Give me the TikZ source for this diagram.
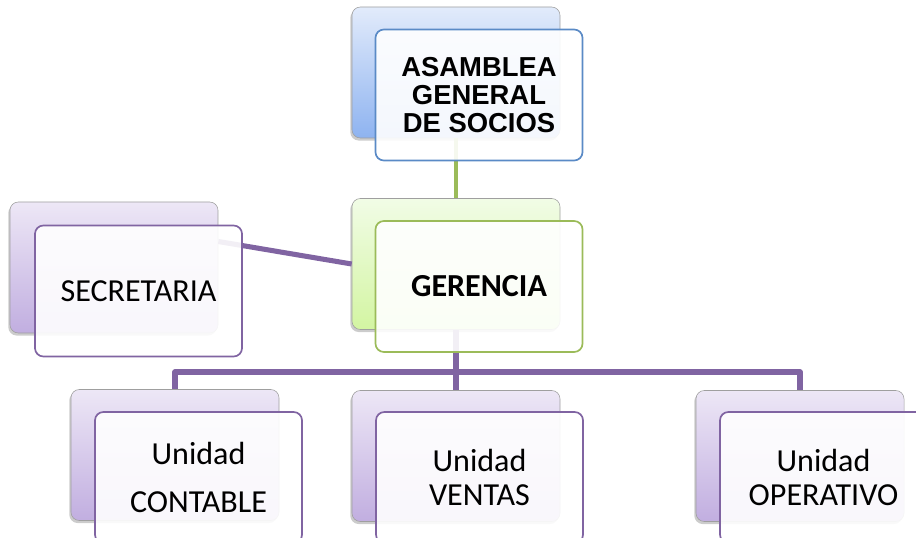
\documentclass[tikz,border=0pt]{standalone}
\usepackage{fontspec}
\setmainfont{Carlito}
\newfontfamily\arialfont{Liberation Sans}
\usetikzlibrary{shadows}
\definecolor{bluetop}{HTML}{E2EBFB}
\definecolor{bluebot}{HTML}{8EB3F0}
\definecolor{blueline}{HTML}{5A8AC6}
\definecolor{greentop}{HTML}{F1FCE6}
\definecolor{greenbot}{HTML}{D3F5A2}
\definecolor{greenline}{HTML}{9BBB59}
\definecolor{purpletop}{HTML}{EDE7F6}
\definecolor{purplebot}{HTML}{C1AEE0}
\definecolor{purpleline}{HTML}{8064A2}
\tikzset{backbox/.style = {draw=gray!75, rounded corners=6pt, inner sep=0,
    minimum width=5.2cm, minimum height=3.275cm,
    drop shadow={shadow xshift=-1.2pt, shadow yshift=-1.8pt, opacity=0.4}}}
\tikzset{frontbox/.style = {draw, line width=1.2pt, rounded corners=6pt, inner sep=0,
    minimum width=5.175cm, minimum height=3.275cm, fill=white, fill opacity=0.9,
    text opacity=1, align=center, font=\fontsize{22.8}{24}\selectfont}}
\tikzset{link/.style = {draw=purpleline, line width=3.6pt, line join=round}}

\begin{document}
\begin{tikzpicture}[x=0.025cm, y=-0.025cm]
    \useasboundingbox (0, 0) rectangle (916, 538);

    % boxes at the back
    \node[backbox, top color=bluetop, bottom color=bluebot] (asb) at (456, 72.5) {};
    \node[backbox, top color=greentop, bottom color=greenbot] (gerb) at (456, 264) {};
    \node[backbox, top color=purpletop, bottom color=purplebot] (secb) at (114, 267.5) {};
    \node[backbox, top color=purpletop, bottom color=purplebot] (conb) at (175, 455) {};
    \node[backbox, top color=purpletop, bottom color=purplebot] (venb) at (456, 456) {};
    \node[backbox, top color=purpletop, bottom color=purplebot] (opb) at (800, 456) {};

    % connectors
    \coordinate (bus) at (456, 372);
    \draw[draw=greenline, line width=3.4pt] (asb.south) -- (gerb.north);
    \draw[link] (gerb.west) -- (secb.14);
    \draw[link] (gerb.south) -- (bus);
    \draw[link] (conb.north) |- (bus) -| (opb.north);
    \draw[link] (bus) -- (venb.north);

    % boxes in front
    \node[frontbox, draw=blueline, font=\arialfont\bfseries\fontsize{19.5}{19.8}\selectfont]
        (asf) at (479, 95) {ASAMBLEA\\GENERAL\\DE SOCIOS};
    \node[frontbox, draw=greenline, font=\bfseries\fontsize{22.8}{24}\selectfont]
        (gerf) at (479, 286.5) {GERENCIA};
    \node[frontbox, draw=purpleline] (secf) at (138.5, 291) {SECRETARIA};
    \node[frontbox, draw=purpleline] (conf) at (198.5, 477.5) {Unidad\\[10.5pt]CONTABLE};
    \node[frontbox, draw=purpleline] (venf) at (479.5, 477.5) {Unidad\\VENTAS};
    \node[frontbox, draw=purpleline] (opf) at (823.5, 477.5) {Unidad\\OPERATIVO};
  \end{tikzpicture}
\end{document}
